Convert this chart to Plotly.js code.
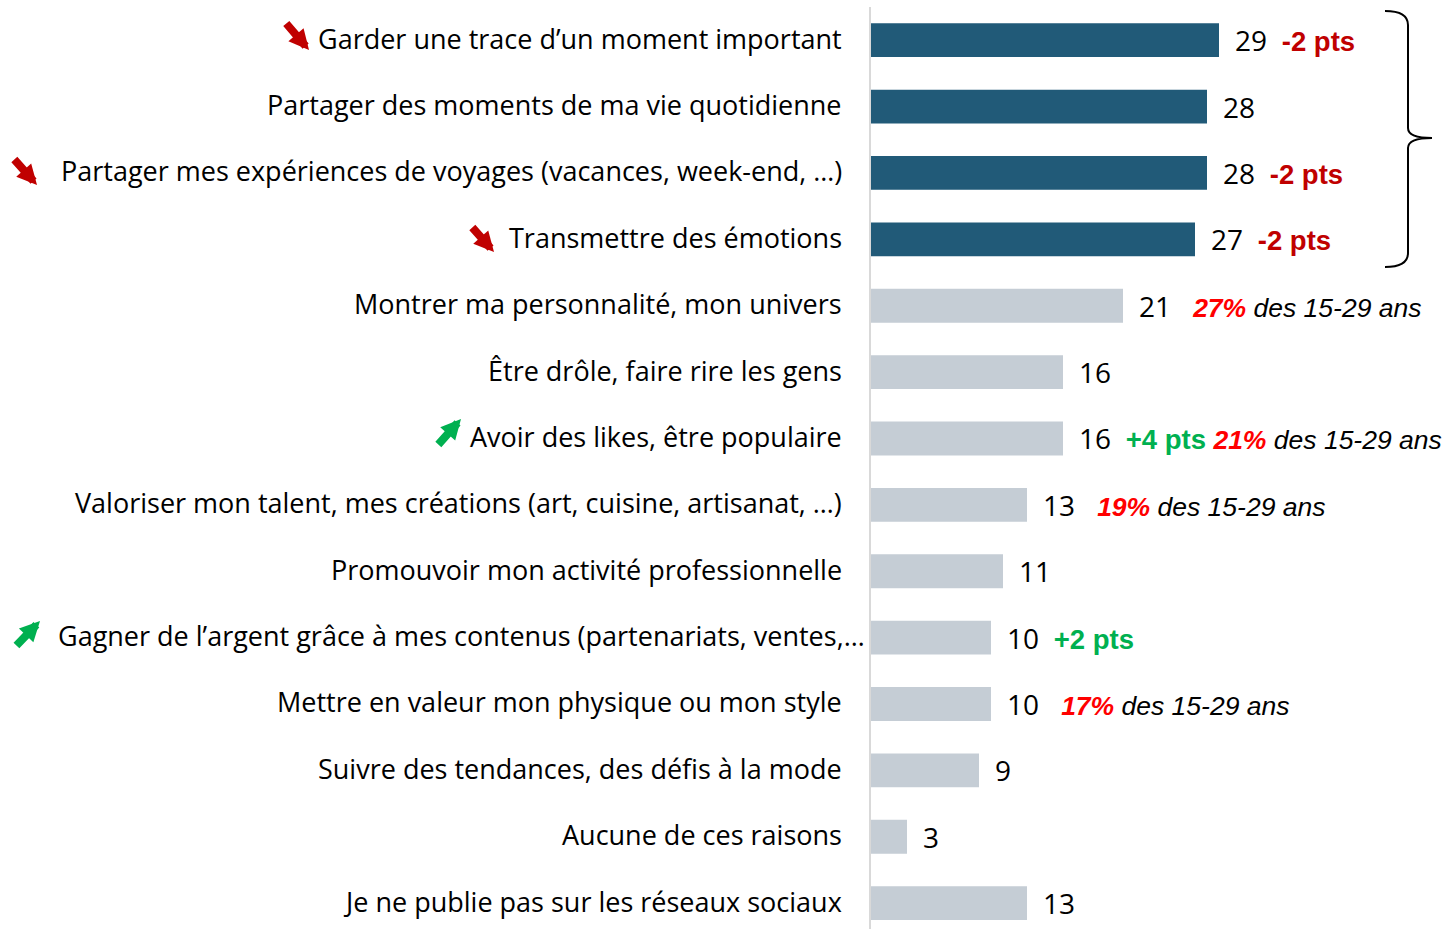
<!DOCTYPE html>
<html>
<head>
<meta charset="utf-8">
<script src="https://cdn.plot.ly/plotly-3.0.1.min.js"></script>
<style>html,body{margin:0;padding:0;background:#fff;}#chart{width:1446px;height:929px;}</style>
</head>
<body>
<div id="chart"></div>
<script>
const categories = [
  "Garder une trace d\u2019un moment important",
  "Partager des moments de ma vie quotidienne",
  "Partager mes exp\u00e9riences de voyages (vacances, week-end, \u2026)",
  "Transmettre des \u00e9motions",
  "Montrer ma personnalit\u00e9, mon univers",
  "\u00catre dr\u00f4le, faire rire les gens",
  "Avoir des likes, \u00eatre populaire",
  "Valoriser mon talent, mes cr\u00e9ations (art, cuisine, artisanat, \u2026)",
  "Promouvoir mon activit\u00e9 professionnelle",
  "Gagner de l\u2019argent gr\u00e2ce \u00e0 mes contenus (partenariats, ventes,\u2026",
  "Mettre en valeur mon physique ou mon style",
  "Suivre des tendances, des d\u00e9fis \u00e0 la mode",
  "Aucune de ces raisons",
  "Je ne publie pas sur les r\u00e9seaux sociaux"
];
const values = [29, 28, 28, 27, 21, 16, 16, 13, 11, 10, 10, 9, 3, 13];
const highlighted = [true, true, true, true, false, false, false, false, false, false, false, false, false, false];
const changes = ["-2 pts", "", "-2 pts", "-2 pts", "", "", "+4 pts", "", "", "+2 pts", "", "", "", ""];
const young = ["", "", "", "", "27%", "", "21%", "19%", "", "", "17%", "", "", ""];
const youngSuffix = " des 15-29 ans";
const trends = ["down", "", "down", "down", "", "", "up", "", "", "up", "", "", "", ""];

const W = 1446, H = 929;
const M = {l: 871, r: 0, t: 7, b: 0};
const pw = W - M.l - M.r, ph = H - M.t - M.b;
const px = p => (p - M.l) / pw;
const py = p => 1 - (p - M.t) / ph;

const LABEL_FONT = "Open Sans, Liberation Sans, sans-serif";
const FONT = "Liberation Sans, Arial, sans-serif";
const DARK = "#215a78", LIGHT = "#c5cdd5";
const RED = "#c00000", GREEN = "#00b050", BRIGHTRED = "#ff0000";

const trace = {
  type: "bar",
  orientation: "h",
  y: categories,
  x: values,
  marker: {color: highlighted.map(h => h ? DARK : LIGHT)},
  width: 0.51,
  hoverinfo: "skip"
};

const annotations = [];
const NB = "\u00a0";
categories.forEach((c, i) => {
  annotations.push({
    x: 0, y: c, xref: "x", yref: "y",
    text: c, showarrow: false, xanchor: "right", yanchor: "middle",
    xshift: i === 9 ? -4 : -27, yshift: 2,
    font: {family: LABEL_FONT, size: 27, color: "#000"}
  });
  let t = "<span style=\"font-family:Open Sans;font-size:28px\">" + values[i] + "</span>";
  if (changes[i]) {
    const col = changes[i].startsWith("-") ? RED : GREEN;
    t += NB + NB + "<b><span style=\"color:" + col + ";font-size:27.5px\">" + changes[i] + "</span></b>";
  }
  if (young[i]) {
    t += (changes[i] ? NB : NB + NB + NB) + "<i><b><span style=\"color:" + BRIGHTRED + "\">" + young[i] + "</span></b>" + youngSuffix + "</i>";
  }
  annotations.push({
    x: values[i], y: c, xref: "x", yref: "y",
    text: t, showarrow: false, xanchor: "left", yanchor: "middle",
    xshift: 14, yshift: 0,
    font: {family: FONT, size: 26.5, color: "#000"}
  });
});

const arrowSpecs = {
  0: {tip: [309, 50], tail: [285, 22]},
  2: {tip: [37, 185], tail: [13, 158]},
  3: {tip: [494, 252], tail: [471, 226]},
  6: {tip: [461, 419], tail: [437, 446]},
  9: {tip: [40, 621], tail: [15, 647]}
};
trends.forEach((tr, i) => {
  if (!tr) return;
  const s = arrowSpecs[i];
  annotations.push({
    xref: "paper", yref: "paper",
    x: px(s.tip[0]), y: py(s.tip[1]),
    ax: s.tail[0] - s.tip[0], ay: s.tail[1] - s.tip[1],
    text: "", showarrow: true, arrowhead: 2, arrowsize: 0.5, arrowwidth: 8,
    arrowcolor: tr === "down" ? RED : GREEN, standoff: 0
  });
});

const bx0 = 1385, bx1 = 1408, bxt = 1432, byT = 11, byM = 138, byB = 267;
const brace = "M" + px(bx0) + "," + py(byT) +
  " Q" + px(bx1) + "," + py(byT) + " " + px(bx1) + "," + py(byT + 14) +
  " L" + px(bx1) + "," + py(byM - 10) +
  " Q" + px(bx1) + "," + py(byM) + " " + px(bxt) + "," + py(byM) +
  " Q" + px(bx1) + "," + py(byM) + " " + px(bx1) + "," + py(byM + 10) +
  " L" + px(bx1) + "," + py(byB - 14) +
  " Q" + px(bx1) + "," + py(byB) + " " + px(bx0) + "," + py(byB);

const layout = {
  width: W, height: H,
  margin: M,
  paper_bgcolor: "#fff", plot_bgcolor: "#fff",
  showlegend: false,
  xaxis: {range: [0, pw / 12], showgrid: false, zeroline: false, showticklabels: false, showline: false, fixedrange: true},
  yaxis: {type: "category", range: [13.39, -0.5], showgrid: false, zeroline: false, showticklabels: false,
          showline: true, linecolor: "#d9d9d9", linewidth: 2, ticks: "", fixedrange: true},
  annotations: annotations,
  shapes: [{type: "path", xref: "paper", yref: "paper", path: brace, line: {color: "#000", width: 2}}]
};

Plotly.newPlot("chart", [trace], layout, {displayModeBar: false, staticPlot: true});
</script>
</body>
</html>
